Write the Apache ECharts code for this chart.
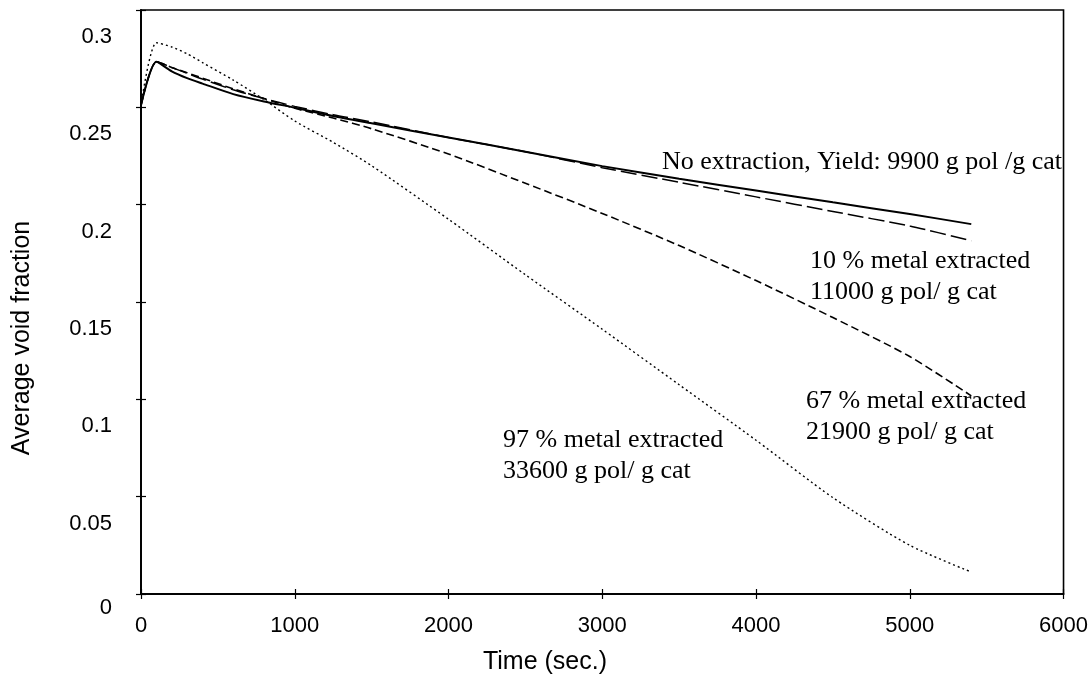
<!DOCTYPE html>
<html>
<head>
<meta charset="utf-8">
<script src="https://cdn.jsdelivr.net/npm/echarts@6/dist/echarts.min.js"></script>
<style>
  html, body { margin: 0; padding: 0; background: #fff; }
  #chart { width: 1091px; height: 678px; }
</style>
</head>
<body>
<div id="chart"></div>
<script>
// Sample times (s)
var timeSec = [0, 100, 200, 300, 400, 600, 800, 1000, 1250, 1500, 2000, 2500, 3000, 3500, 4000, 4500, 5000, 5400];

// Average void fraction for each extraction level
var noExtraction = [0.251, 0.2734, 0.2685, 0.2650, 0.2622, 0.2568, 0.2530, 0.2498, 0.2455, 0.2418, 0.2345, 0.2272, 0.2198, 0.2133, 0.2073, 0.2012, 0.1952, 0.1900];
var extracted10 = [0.251, 0.2734, 0.2705, 0.2675, 0.2645, 0.2590, 0.2545, 0.2505, 0.2462, 0.2425, 0.2345, 0.2272, 0.2190, 0.2115, 0.2040, 0.1965, 0.1890, 0.1815];
var extracted67 = [0.251, 0.2734, 0.2705, 0.2678, 0.2650, 0.2595, 0.2545, 0.2495, 0.2445, 0.2390, 0.2260, 0.2110, 0.1955, 0.1790, 0.1610, 0.1420, 0.1220, 0.1018];
var extracted97 = [0.251, 0.2832, 0.2810, 0.2775, 0.2730, 0.2640, 0.2540, 0.2430, 0.2320, 0.2200, 0.1925, 0.1640, 0.1360, 0.1075, 0.0790, 0.0495, 0.0250, 0.0113];

// Axis tick labels
var xTickLabels = ['0', '1000', '2000', '3000', '4000', '5000', '6000'];
var yTickLabels = ['0', '0.05', '0.1', '0.15', '0.2', '0.25', '0.3'];

// Curve annotations
var noteNone = ['No extraction, Yield: 9900 g pol /g cat'];
var note10 = ['10 % metal extracted', '11000 g pol/ g cat'];
var note67 = ['67 % metal extracted', '21900 g pol/ g cat'];
var note97 = ['97 % metal extracted', '33600 g pol/ g cat'];

var SANS = '"Liberation Sans", Arial, Helvetica, sans-serif';
var SERIF = '"Liberation Serif", "Times New Roman", serif';

function pairs(values) {
  return timeSec.map(function (t, i) { return [t, values[i]]; });
}

var chart = echarts.init(document.getElementById('chart'), null, { renderer: 'canvas' });

var axisLine = { show: true, lineStyle: { color: '#000', width: 1.6 } };
var tickIn = { show: true, inside: true, length: 5, lineStyle: { color: '#000', width: 1.2 } };

function noteText(lines, left, top) {
  return {
    type: 'text',
    left: left,
    top: top,
    style: {
      text: lines.join('\n'),
      font: '26px ' + SERIF,
      lineHeight: 31,
      fill: '#000'
    }
  };
}

function curve(name, values, lineStyle) {
  return {
    name: name, type: 'line', data: pairs(values),
    smooth: 0.25,
    showSymbol: false, lineStyle: lineStyle
  };
}

var option = {
  backgroundColor: '#fff',
  animation: false,
  grid: {
    left: 141, right: 16, top: 10, bottom: 84,
    show: true, borderColor: '#000', borderWidth: 1.6, backgroundColor: 'transparent'
  },
  xAxis: [{
    type: 'value', min: 0, max: 6000, interval: 1000,
    axisLine: axisLine, axisTick: tickIn, splitLine: { show: false },
    axisLabel: {
      margin: 21, color: '#000', fontFamily: SANS, fontSize: 22,
      formatter: function (v) { return xTickLabels[Math.round(v / 1000)]; }
    }
  }, {
    type: 'value', position: 'top', min: 0, max: 6000, interval: 1000,
    axisLine: axisLine, axisTick: tickIn, axisLabel: { show: false }, splitLine: { show: false }
  }],
  yAxis: [{
    type: 'value', min: 0, max: 0.3, interval: 0.05,
    axisLine: axisLine, axisTick: tickIn, splitLine: { show: false },
    axisLabel: {
      margin: 29, color: '#000', fontFamily: SANS, fontSize: 22, verticalAlign: 'top',
      formatter: function (v) {
        var s = yTickLabels[Math.round(v / 0.05)];
        return v === 0 ? '{z|' + s + '}' : '{a|' + s + '}';
      },
      rich: {
        a: { lineHeight: 54, fontFamily: SANS, fontSize: 22, color: '#000' },
        z: { lineHeight: 28, fontFamily: SANS, fontSize: 22, color: '#000' }
      }
    }
  }, {
    type: 'value', position: 'right', min: 0, max: 0.3, interval: 0.05,
    axisLine: axisLine, axisTick: tickIn, axisLabel: { show: false }, splitLine: { show: false }
  }],
  series: [
    curve('No extraction', noExtraction, { color: '#000', width: 2 }),
    curve('10 % metal extracted', extracted10, { color: '#000', width: 1.5, type: [16, 5] }),
    curve('67 % metal extracted', extracted67, { color: '#000', width: 1.6, type: [8, 4] }),
    curve('97 % metal extracted', extracted97, { color: '#000', width: 1.4, type: [2, 3] })
  ],
  graphic: [
    noteText(noteNone, 662, 147),
    noteText(note10, 810, 246),
    noteText(note67, 806, 386),
    noteText(note97, 503, 425),
    {
      type: 'text', x: 545, y: 662,
      style: { text: 'Time (sec.)', font: '25px ' + SANS, fill: '#000', align: 'center', verticalAlign: 'middle' }
    },
    {
      type: 'text', x: 22, y: 338, rotation: Math.PI / 2,
      style: {
        text: 'Average void fraction', font: '25px ' + SANS, fill: '#000',
        align: 'center', verticalAlign: 'middle'
      }
    }
  ]
};

chart.setOption(option);
</script>
</body>
</html>
